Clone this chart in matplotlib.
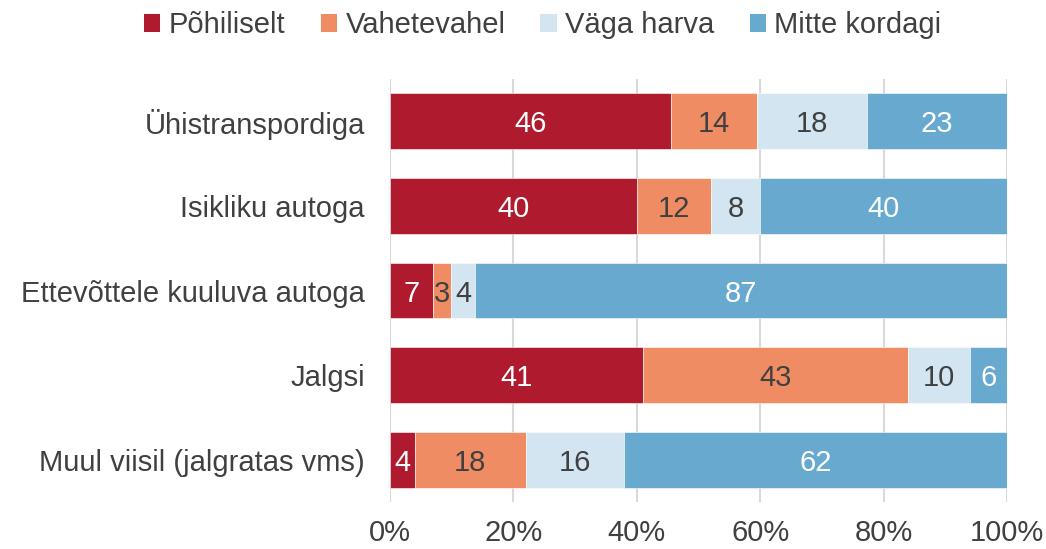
import numpy as np
import matplotlib
matplotlib.use('Agg')
import matplotlib.pyplot as plt
from matplotlib.patches import Patch

# Données
categories = ['Ühistranspordiga', 'Isikliku autoga', 'Ettevõttele kuuluva autoga',
              'Jalgsi', 'Muul viisil (jalgratas vms)']
series_names = ['Põhiliselt', 'Vahetevahel', 'Väga harva', 'Mitte kordagi']
pohiliselt = [46, 40, 7, 41, 4]
vahetevahel = [14, 12, 3, 43, 18]
vaga_harva = [18, 8, 4, 10, 16]
mitte_kordagi = [23, 40, 87, 6, 62]
x_ticks = [0, 20, 40, 60, 80, 100]

colors = ['#B01A2E', '#F08C64', '#D2E5F0', '#67A9CF']
label_colors = ['white', '#404040', '#404040', 'white']
text_color = '#404040'

plt.rcParams['font.family'] = ['Liberation Sans', 'DejaVu Sans']

fig = plt.figure(figsize=(10.46, 5.49), dpi=100)
ax = fig.add_axes([0.3728, 0.0856, 0.590, 0.7705])

values = np.array([pohiliselt, vahetevahel, vaga_harva, mitte_kordagi], dtype=float)
totals = values.sum(axis=0)
shares = values / totals * 100  # normalisation à 100 %

y = np.arange(len(categories))
left = np.zeros(len(categories))
for i in range(len(series_names)):
    ax.barh(y, shares[i], left=left, height=0.66, color=colors[i],
            edgecolor='white', linewidth=0.4, zorder=3)
    for j in range(len(categories)):
        ax.text(left[j] + shares[i][j] / 2, y[j], '%d' % values[i][j],
                ha='center', va='center_baseline', fontsize=21, color=label_colors[i], zorder=4)
    left += shares[i]

ax.set_xlim(0, 100)
ax.set_ylim(4.5, -0.5)
ax.set_xticks(x_ticks)
ax.set_xticklabels(['%d%%' % t for t in x_ticks])
ax.set_yticks(y)
ax.set_yticklabels(categories)
ax.tick_params(axis='both', length=0, labelsize=21, colors=text_color)
ax.tick_params(axis='x', pad=12)
ax.tick_params(axis='y', pad=18)
ax.xaxis.grid(True, color='#D9D9D9', linewidth=1.5, zorder=0)
for s in ax.spines.values():
    s.set_visible(False)

handles = [Patch(facecolor=c, label=n) for c, n in zip(colors, series_names)]
leg = fig.legend(handles=handles, loc='center', bbox_to_anchor=(0.519, 0.954), ncol=4,
                 frameon=False, fontsize=21, handlelength=0.55, handleheight=0.55,
                 handletextpad=0.3, columnspacing=1.2, labelcolor=text_color)

fig.savefig('out.png', dpi=100)
